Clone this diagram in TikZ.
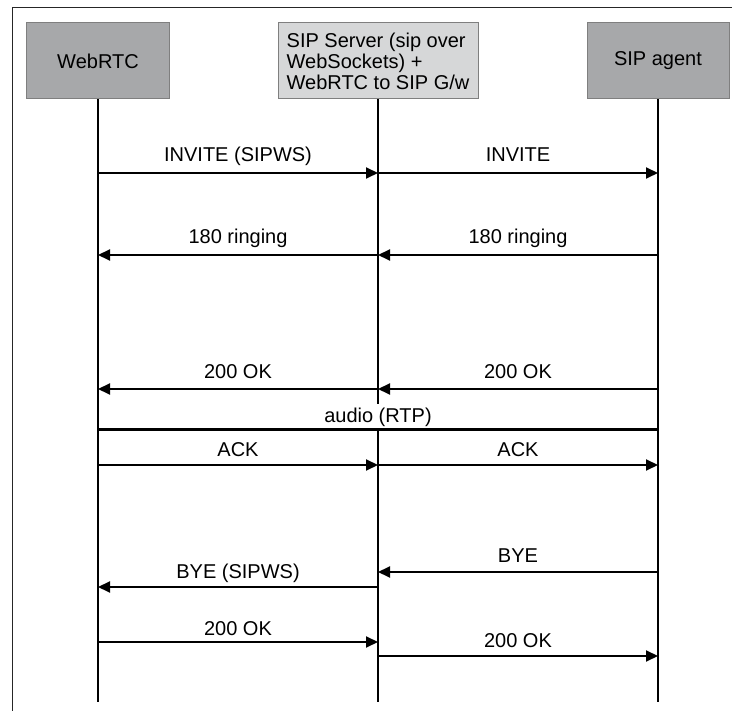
\documentclass[tikz,border=0pt]{standalone}
\usepackage{fontspec}
\setmainfont{Liberation Sans}
\usetikzlibrary{arrows.meta}
\definecolor{boxdark}{HTML}{A7A8AA}
\definecolor{boxlight}{HTML}{D6D7D8}
\definecolor{boxedge}{HTML}{7F7F7F}
\tikzset{
  txt/.style={font=\fontsize{20}{21}\selectfont},
  actor/.style={txt, draw=boxedge, line width=1pt, fill=boxdark, minimum height=76pt, inner sep=0pt},
  server/.style={actor, fill=boxlight, align=left},
  life/.style={line width=1.6pt, black},
  msg/.style={line width=2pt, black, -{Triangle[length=12pt,width=11pt]}},
  lbl/.style={txt, midway, anchor=base, inner sep=0pt},
  frame/.style={line width=1pt, black!85},
}
\begin{document}
\begin{tikzpicture}[x=1pt,y=-1pt]
\useasboundingbox (0,0) rectangle (732,711);
\draw[frame] (12,711) -- (12,8) -- (732,8);

\node[actor, minimum width=143pt] (wr) at (98,61) {WebRTC};
\node[server, minimum width=200pt] (sv) at (378,61) {SIP Server (sip over\\WebSockets) +\\WebRTC to SIP G/w};
\node[actor, minimum width=142pt] (ag) at (658,61) {SIP agent};

\coordinate (wrend) at (wr.south |- 0,702);
\coordinate (svend) at (sv.south |- 0,702);
\coordinate (agend) at (ag.south |- 0,702);
\draw[life] (wr.south) -- (wrend);
\draw[life] (sv.south) -- (svend);
\draw[life] (ag.south) -- (agend);

% INVITE
\draw[msg] (wr |- 0,173) -- (sv |- 0,173) node[lbl, yshift=11pt] {INVITE (SIPWS)};
\draw[msg] (sv |- 0,173) -- (ag |- 0,173) node[lbl, yshift=11pt] {INVITE};
% 180 ringing
\draw[msg] (sv |- 0,255) -- (wr |- 0,255) node[lbl, yshift=11pt] {180 ringing};
\draw[msg] (ag |- 0,255) -- (sv |- 0,255) node[lbl, yshift=11pt] {180 ringing};
% 200 OK
\draw[msg] (sv |- 0,389) -- (wr |- 0,389) node[lbl, yshift=10pt] {200 OK};
\draw[msg] (ag |- 0,389) -- (sv |- 0,389) node[lbl, yshift=10pt] {200 OK};
% audio
\node[txt, fill=white, anchor=base, inner xsep=3pt, inner ysep=2pt, text height=17pt, text depth=3pt] (au) at (378,423) {audio (RTP)};
\draw[line width=3pt] (wr |- 0,430) -- (ag |- 0,430);
% ACK
\draw[msg] (wr |- 0,465) -- (sv |- 0,465) node[lbl, yshift=8pt] {ACK};
\draw[msg] (sv |- 0,465) -- (ag |- 0,465) node[lbl, yshift=8pt] {ACK};
% BYE
\draw[msg] (ag |- 0,572) -- (sv |- 0,572) node[lbl, yshift=9pt] {BYE};
\draw[msg] (sv |- 0,587) -- (wr |- 0,587) node[lbl, yshift=8pt] {BYE (SIPWS)};
% 200 OK final
\draw[msg] (wr |- 0,642) -- (sv |- 0,642) node[lbl, yshift=7pt] {200 OK};
\draw[msg] (sv |- 0,656) -- (ag |- 0,656) node[lbl, yshift=8pt] {200 OK};
\end{tikzpicture}
\end{document}
